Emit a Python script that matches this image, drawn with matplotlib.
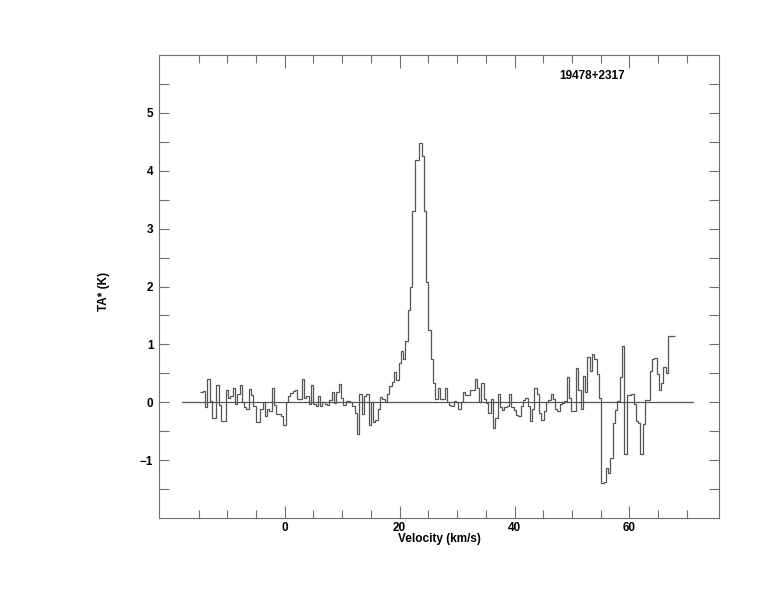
import numpy as np
import matplotlib
matplotlib.use('Agg')
import matplotlib.pyplot as plt

# spectrum: first channel edge, channel width (km/s) and antenna temperature per channel
v_start = -14.7
chan_width = 0.4012
ta = [
    0.17, 0.20, -0.09, 0.41, 0.02, -0.28, -0.27, 0.30, -0.05, -0.33,
    -0.33, 0.22, 0.08, 0.10, 0.25, -0.03, 0.14, 0.30, 0.00, -0.09,
    -0.11, 0.23, 0.12, -0.06, -0.34, -0.34, -0.11, 0.00, -0.24, -0.12,
    -0.15, 0.25, -0.05, -0.20, -0.20, -0.24, -0.40, 0.00, 0.10, 0.16,
    0.20, 0.21, 0.06, 0.05, 0.41, 0.08, 0.10, -0.03, 0.29, -0.03,
    -0.06, 0.10, -0.06, 0.00, -0.03, -0.05, 0.04, 0.17, -0.02, 0.17,
    0.31, 0.08, -0.05, 0.02, 0.02, 0.00, -0.06, -0.19, -0.55, 0.14,
    -0.20, 0.10, 0.14, -0.40, 0.00, -0.34, -0.30, -0.12, 0.09, 0.06,
    0.00, 0.14, 0.28, 0.35, 0.52, 0.38, 0.68, 0.89, 0.75, 1.06,
    1.60, 2.00, 3.30, 4.19, 4.19, 4.48, 4.26, 3.30, 2.07, 1.24,
    0.75, 0.33, 0.06, 0.25, 0.05, 0.05, 0.25, 0.00, -0.05, -0.06,
    0.02, 0.00, -0.11, 0.00, 0.17, 0.12, 0.12, 0.21, 0.21, 0.41,
    0.25, 0.00, 0.34, 0.06, -0.02, -0.19, 0.05, -0.44, -0.28, 0.14,
    -0.09, -0.13, -0.09, -0.07, 0.14, -0.09, -0.13, -0.22, -0.24, -0.06,
    0.04, 0.08, -0.06, -0.32, -0.12, 0.24, 0.14, -0.18, -0.31, -0.15,
    0.00, 0.04, 0.14, 0.05, -0.12, -0.15, -0.03, -0.02, 0.03, 0.44,
    0.08, -0.15, -0.15, 0.60, 0.22, -0.12, 0.45, 0.18, 0.79, 0.54,
    0.83, 0.75, 0.48, 0.08, -1.40, -1.37, -1.13, -1.22, -0.97, -0.36,
    -0.13, 0.02, 0.44, 0.98, -0.90, 0.12, 0.12, 0.14, -0.03, -0.32,
    -0.35, -0.90, -0.38, 0.04, 0.04, 0.54, 0.74, 0.77, 0.48, 0.21,
    0.34, 0.61, 0.51, 1.14, 1.14, 1.14,
]
baseline_range = [-17.9, 71.0]
source_name = '19478+2317'

x_major = [0, 20, 40, 60]
x_minor = [-15, -10, -5, 5, 10, 15, 25, 30, 35, 45, 50, 55, 65, 70]
y_major = [-1, 0, 1, 2, 3, 4, 5]
y_minor = [-1.5, -0.5, 0.5, 1.5, 2.5, 3.5, 4.5, 5.5]

plt.rcParams['font.family'] = ['Liberation Sans', 'DejaVu Sans']
plt.rcParams['font.weight'] = 'bold'

fig = plt.figure(figsize=(7.74, 6.12), dpi=100)
ax = fig.add_axes([0.2054, 0.1536, 0.7235, 0.7565])

edges = v_start + chan_width * np.arange(len(ta) + 1)
col = '#555555'
ax.stairs(ta, edges, baseline=None, color=col, linewidth=0.9)
ax.plot(baseline_range, [0, 0], color=col, linewidth=0.9)

ax.set_xlim(-21.9, 75.6)
ax.set_ylim(-2.0, 6.0)

ax.set_xticks(x_major)
ax.set_xticks(x_minor, minor=True)
ax.set_yticks(y_major)
ax.set_yticks(y_minor, minor=True)

ax.tick_params(which='both', direction='in', top=True, right=True,
               color='#707070', width=0.8, labelsize=8.5)
ax.tick_params(axis='x', which='major', length=9, pad=3)
ax.tick_params(axis='x', which='minor', length=6)
ax.tick_params(axis='y', which='both', length=7, pad=4)
for sp in ax.spines.values():
    sp.set_color('#707070')
    sp.set_linewidth(0.8)

ax.set_xlabel('Velocity (km/s)', fontsize=8.5, fontweight='bold', labelpad=-1)
ax.set_ylabel('TA* (K)', fontsize=8.5, fontweight='bold')
ax.yaxis.set_label_coords(-0.0875, 0.49)

ax.text(0.773, 0.955, source_name, transform=ax.transAxes, ha='center',
        va='center', fontsize=8.5, fontweight='bold')

fig.savefig('out.png', dpi=100)
